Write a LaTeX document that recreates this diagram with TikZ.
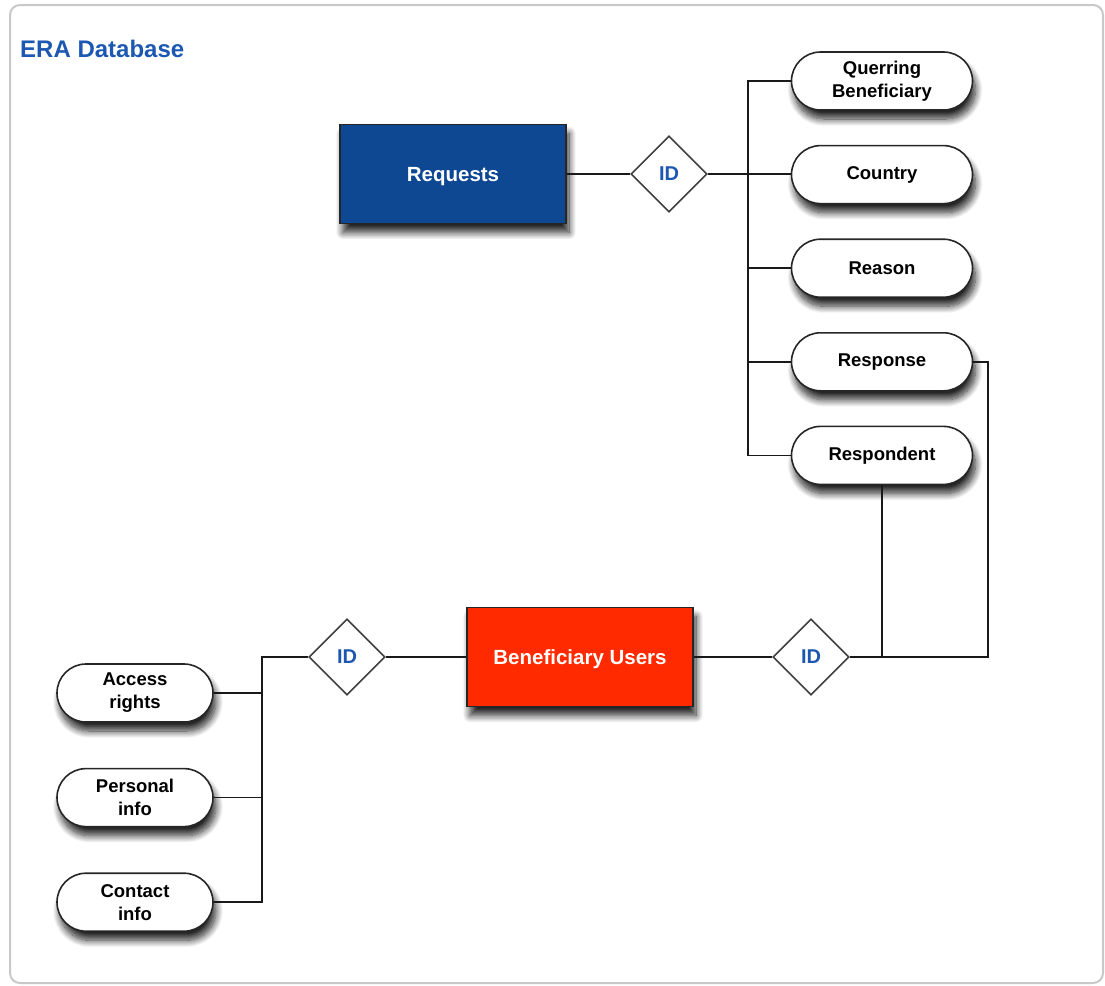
\documentclass[tikz,border=0pt]{standalone}
\usepackage{fontspec}
\setmainfont{Liberation Sans}
\usetikzlibrary{positioning, shapes.geometric, shadows.blur, calc}
\definecolor{requestblue}{RGB}{14, 72, 146}
\definecolor{userred}{RGB}{255, 42, 0}
\definecolor{idblue}{RGB}{28, 88, 178}
\definecolor{framegray}{RGB}{200, 200, 200}

\begin{document}
\begin{tikzpicture}[
    x=1pt, y=-1pt,
    softshadow/.style={
      blur shadow={shadow xshift=3pt, shadow yshift=-9pt,
        shadow blur radius=7pt, shadow blur steps=12, shadow opacity=85}
    },
    entity/.style={
      draw=black!85, line width=1.8pt, minimum width=226pt,
      minimum height=99pt, text=white, softshadow, text depth=0pt,
      font=\fontsize{20.5}{24}\selectfont\bfseries
    },
    reqbox/.style={entity, fill=requestblue},
    userbox/.style={entity, fill=userred},
    attrib/.style={
      draw=black!85, line width=1.6pt, fill=white, rounded corners=29pt,
      minimum height=58pt, align=center, softshadow,
      font=\fontsize{18.5}{23}\selectfont\bfseries
    },
    rattrib/.style={attrib, minimum width=181pt},
    lattrib/.style={attrib, minimum width=156pt},
    keyid/.style={
      diamond, draw=black!75, line width=1.6pt, fill=white,
      minimum width=76pt, minimum height=76pt, inner sep=0pt,
      text=idblue, font=\fontsize{20}{24}\selectfont\bfseries
    },
    link/.style={line width=1.5pt, black!90},
    node distance=34pt,
]
    \useasboundingbox (0,0) rectangle (1105,985);
    \draw[framegray, line width=2pt, rounded corners=10pt] (10,5) rectangle (1103,983);

    % Title
    \node[anchor=base west, inner sep=0pt, text=idblue,
      font=\fontsize{24}{28}\selectfont\bfseries] (title) at (20,57) {ERA Database};

    % Entities and keys
    \node[reqbox] (req) at (453,174) {Requests};
    \node[keyid] (id1) at (669,174) {ID};
    \node[userbox] (users) at (580,657) {Beneficiary Users};
    \node[keyid] (id2) at (347,657) {ID};
    \node[keyid] (id3) at (811,657) {ID};

    % Request attributes
    \node[rattrib] (querring) at (882,81) {Querring\\Beneficiary};
    \node[rattrib, below=of querring] (country) {Country};
    \node[rattrib, below=of country] (reason) {Reason};
    \node[rattrib, below=of reason] (response) {Response};
    \node[rattrib, below=of response] (respondent) {Respondent};

    % User attributes
    \node[lattrib] (access) at (135,693) {Access\\rights};
    \node[lattrib, below=45pt of access] (personal) {Personal\\info};
    \node[lattrib, below=45pt of personal] (contact) {Contact\\info};

    % Bus lines
    \coordinate (rbus) at (748,0);
    \coordinate (rloop) at (988,0);
    \coordinate (lbus) at (262,0);

    % Requests side
    \draw[link] (req.east) -- (id1.west);
    \draw[link] (id1.east) -- (id1.east -| country.west);
    \draw[link] (querring.west) -- (querring.west -| rbus)
      -- (respondent.west -| rbus) -- (respondent.west);
    \foreach \a in {reason, response}
      \draw[link] (\a.west) -- (\a.west -| rbus);

    % Link to users
    \draw[link] (response.east) -- (response.east -| rloop)
      -- (id3.east -| rloop) -- (id3.east);
    \draw[link] (respondent.south) -- (respondent.south |- id3.east);
    \draw[link] (users.east) -- (id3.west);
    \draw[link] (id2.east) -- (users.west);

    % Users side
    \draw[link] (id2.west) -- (id2.west -| lbus)
      -- (contact.east -| lbus) -- (contact.east);
    \foreach \a in {access, personal}
      \draw[link] (\a.east) -- (\a.east -| lbus);
\end{tikzpicture}
\end{document}
